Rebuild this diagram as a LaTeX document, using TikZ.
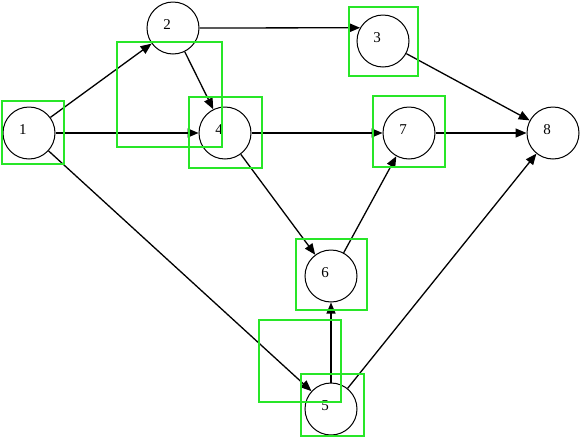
\documentclass[tikz,border=0pt]{standalone}
\usepackage{fontspec}
\setmainfont{Liberation Serif}
\definecolor{boxgreen}{RGB}{40,230,40}
\usetikzlibrary{arrows.meta,positioning}

\begin{document}
\begin{tikzpicture}[x=1pt,y=-1pt,
    event/.style={draw, circle, line width=1pt, minimum size=52pt, inner sep=0pt},
    num/.style={xshift=-6pt, yshift=3pt, font=\fontsize{15}{15}\selectfont},
    task/.style={-{Triangle[length=11pt,width=9pt]}, line width=1.3pt},
    hlbox/.style={draw=boxgreen, line width=2.5pt}]
    \useasboundingbox (0,0) rectangle (582,437);
    % events
    \node[event, label={[num]center:1}] (n1) at (29,133) {};
    \node[event, label={[num]center:2}] (n2) at (173,28) {};
    \node[event, label={[num]center:3}] (n3) at (383,41) {};
    \node[event, label={[num]center:4}] (n4) at (225,133) {};
    \node[event, label={[num]center:5}] (n5) at (331,409) {};
    \node[event, label={[num]center:6}] (n6) at (331,276) {};
    \node[event, label={[num]center:7}] (n7) at (409,133) {};
    \node[event, label={[num]center:8}] (n8) at (553,133) {};
    % tasks
    \draw[task] (n1) -- (n2);
    \draw[task] (n1) -- (n4);
    \draw[task] (n1) -- (n5);
    \draw[task] (n2.east) -- (n3.150);
    \draw[task] (n2) -- (n4);
    \draw[task] (n3) -- (n8);
    \draw[task] (n4) -- (n7);
    \draw[task] (n4) -- (n6);
    \draw[task] (n7) -- (n8);
    \draw[task] (n6) -- (n7);
    \draw[task] (n5) -- (n6);
    \draw[task] (n5) -- (n8);
    % green boxes
    \draw[hlbox] (2,101) rectangle (64,164);
    \draw[hlbox] (117,42) rectangle (222,147);
    \draw[hlbox] (189,97) rectangle (262,168);
    \draw[hlbox] (349,7) rectangle (418,76);
    \draw[hlbox] (373,96) rectangle (445,167);
    \draw[hlbox] (296,239) rectangle (367,310);
    \draw[hlbox] (259,320) rectangle (341,402);
    \draw[hlbox] (301,374) rectangle (364,436);
\end{tikzpicture}
\end{document}
